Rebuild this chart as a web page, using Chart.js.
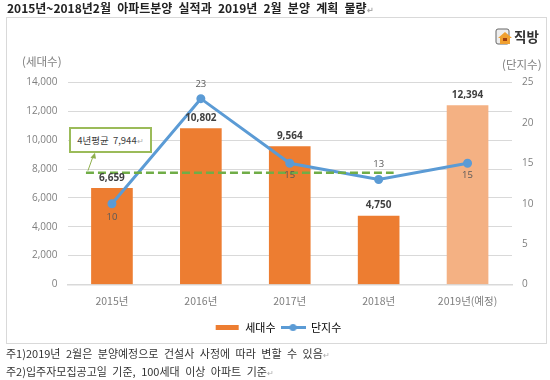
<!DOCTYPE html>
<html>
<head>
<meta charset="utf-8">
<script src="https://cdn.jsdelivr.net/npm/chart.js@4"></script>
<style>
  html, body { margin: 0; padding: 0; background: #fff; }
  body { position: relative; width: 550px; height: 380px; overflow: hidden; font-family: "Noto Sans CJK KR", "Noto Sans", sans-serif; }
  #chart { position: absolute; left: 0; top: 0; }
  .txt { position: absolute; white-space: pre; }
  .mark { color: #aaa; font-size: 8px; }
  #title { left: 7px; top: 0px; font-size: 12px; line-height: 16px; font-weight: 700; color: #222; word-spacing: 3.5px; }
  #note1 { left: 6px; top: 345px; font-size: 11px; line-height: 16px; color: #333; word-spacing: 3px; }
  #note2 { left: 6px; top: 363px; font-size: 11px; line-height: 16px; color: #333; word-spacing: 3px; }
  .unit { font-size: 11.5px; line-height: 16px; color: #7f7f7f; }
  #unitL { left: 22px; top: 53px; }
  #unitR { left: 502px; top: 56px; }
  #callout { left: 69px; top: 127px; width: 79px; height: 22px; border: 2px solid #9bbb59; background: #fff; font-size: 9.5px; line-height: 22px; color: #404040; text-align: center; word-spacing: 2px; }
  #logo { left: 514px; top: 27px; font-size: 13.5px; line-height: 18px; font-weight: 700; color: #333; }
  #logoIcon { position: absolute; left: 495px; top: 28px; }
</style>
</head>
<body>
<canvas id="chart" width="550" height="380"></canvas>
<div class="txt" id="title">2015년~2018년2월 아파트분양 실적과 2019년 2월 분양 계획 물량<span class="mark">↵</span></div>
<div class="txt unit" id="unitL">(세대수)</div>
<div class="txt unit" id="unitR">(단지수)</div>
<div class="txt" id="callout">4년평균 7,944<span class="mark">↵</span></div>
<svg id="logoIcon" width="18" height="18" viewBox="0 0 18 18">
  <rect x="1" y="1" width="13" height="15" rx="2" fill="#eee" stroke="#666" stroke-width="1"/>
  <path d="M3 10 L10 4 L17 10 L15 10 L15 16 L5 16 L5 10 Z" fill="#f0a030"/>
  <rect x="8" y="10" width="4" height="3" fill="#a04010"/>
</svg>
<div class="txt" id="logo">직방</div>
<div class="txt" id="note1">주1)2019년 2월은 분양예정으로 건설사 사정에 따라 변할 수 있음<span class="mark">↵</span></div>
<div class="txt" id="note2">주2)입주자모집공고일 기준, 100세대 이상 아파트 기준<span class="mark">↵</span></div>

<script>
// data
const categories = ['2015년', '2016년', '2017년', '2018년', '2019년(예정)'];
const householdValues = [6659, 10802, 9564, 4750, 12394];
const complexValues = [10, 23, 15, 13, 15];
const leftTicks = [0, 2000, 4000, 6000, 8000, 10000, 12000, 14000];
const rightTicks = [0, 5, 10, 15, 20, 25];
const averageLineLevel = 7750; // the dashed line sits a bit under 8,000 in the picture

const barColors = ['#ed7d31', '#ed7d31', '#ed7d31', '#ed7d31', '#f4b183'];
const lineBlue = '#5b9bd5';
const gridColor = '#d9d9d9';

// legend swatches: flat bar and line with a dot
function makeSwatch(isLine) {
    const s = document.createElement('canvas');
    s.width = 25;
    s.height = 9;
    const g = s.getContext('2d');
    if (isLine) {
        g.fillStyle = lineBlue;
        g.fillRect(0, 3, 25, 3);
        g.beginPath();
        g.arc(12.5, 4.5, 3.5, 0, Math.PI * 2);
        g.fill();
    } else {
        g.fillStyle = '#ed7d31';
        g.fillRect(1, 2, 23, 5);
    }
    return s;
}

// frame, average line, callout arrow and value labels
const overlayPlugin = {
    id: 'overlay',
    beforeDraw(chart) {
        const c = chart.ctx;
        c.save();
        c.strokeStyle = '#d9d9d9';
        c.lineWidth = 1;
        c.strokeRect(6.5, 17.5, 540, 326);
        c.restore();
    },
    afterDatasetsDraw(chart) {
        const c = chart.ctx;
        const x = chart.scales.x;
        const y = chart.scales.y;
        const y1 = chart.scales.y1;

        // dashed average line
        const avgY = y.getPixelForValue(averageLineLevel);
        c.save();
        c.strokeStyle = '#70ad47';
        c.lineWidth = 2.5;
        c.setLineDash([8, 4]);
        c.beginPath();
        c.moveTo(x.getPixelForValue(0) - 26, avgY);
        c.lineTo(x.getPixelForValue(3) + 15, avgY);
        c.stroke();
        c.restore();

        // arrow from the line up to the callout
        const ax = x.getPixelForValue(0) - 24;
        c.save();
        c.strokeStyle = '#8fb04d';
        c.fillStyle = '#8fb04d';
        c.lineWidth = 1;
        c.beginPath();
        c.moveTo(ax, avgY - 2);
        c.lineTo(ax + 5, avgY - 16);
        c.stroke();
        c.beginPath();
        c.moveTo(ax + 7, avgY - 20);
        c.lineTo(ax + 2.5, avgY - 15);
        c.lineTo(ax + 8, avgY - 14);
        c.closePath();
        c.fill();
        c.restore();

        // value labels
        c.save();
        c.textAlign = 'center';
        c.textBaseline = 'middle';
        c.font = 'bold 10px "Open Sans", "Noto Sans", sans-serif';
        c.fillStyle = '#404040';
        householdValues.forEach((v, i) => {
            c.fillText(v.toLocaleString('en-US'), x.getPixelForValue(i), y.getPixelForValue(v) - 10.5);
        });
        const offs = [14, -14, 12, -15, 12];
        c.font = '9.5px "Open Sans", "Noto Sans", sans-serif';
        c.fillStyle = '#595959';
        complexValues.forEach((v, i) => {
            c.fillText(String(v), x.getPixelForValue(i), y1.getPixelForValue(v) + offs[i]);
        });
        c.restore();
    }
};

const tickFont = { family: '"Open Sans", "Noto Sans", sans-serif', size: 10 };

new Chart(document.getElementById('chart'), {
    data: {
        labels: categories,
        datasets: [
            {
                type: 'line',
                label: '단지수',
                data: complexValues,
                yAxisID: 'y1',
                borderColor: lineBlue,
                backgroundColor: lineBlue,
                borderWidth: 3,
                pointRadius: 3,
                pointBackgroundColor: lineBlue,
                pointBorderColor: lineBlue,
                tension: 0,
                order: 1
            },
            {
                type: 'bar',
                label: '세대수',
                data: householdValues,
                yAxisID: 'y',
                backgroundColor: barColors,
                barThickness: 41,
                order: 2
            }
        ]
    },
    options: {
        responsive: false,
        animation: false,
        layout: { padding: { left: 6, right: 0, top: 82.5, bottom: 37 } },
        plugins: {
            title: { display: false },
            tooltip: { enabled: false },
            legend: {
                position: 'bottom',
                labels: {
                    color: '#7f7f7f',
                    usePointStyle: true,
                    pointStyleWidth: 25,
                    padding: 5,
                    font: { family: '"Noto Sans CJK KR"', size: 11 },
                    generateLabels() {
                        return [
                            { text: '세대수', pointStyle: makeSwatch(false), datasetIndex: 1, lineWidth: 0 },
                            { text: '단지수', pointStyle: makeSwatch(true), datasetIndex: 0, lineWidth: 0 }
                        ];
                    }
                }
            }
        },
        scales: {
            x: {
                afterFit(axis) { axis.height = 32.5; },
                grid: { display: false },
                border: { color: gridColor, width: 1.5 },
                ticks: { color: '#7f7f7f', font: { family: '"Noto Sans CJK KR"', size: 10.5 }, padding: 2, maxRotation: 0 }
            },
            y: {
                position: 'left',
                min: 0,
                max: 14000,
                afterBuildTicks(axis) { axis.ticks = leftTicks.map(v => ({ value: v })); },
                afterFit(axis) { axis.width = 61.5; },
                grid: { color: gridColor, drawTicks: false },
                border: { display: false },
                ticks: { color: '#7f7f7f', font: tickFont, padding: 10, callback: v => v.toLocaleString('en-US') }
            },
            y1: {
                position: 'right',
                min: 0,
                max: 25,
                afterBuildTicks(axis) { axis.ticks = rightTicks.map(v => ({ value: v })); },
                afterFit(axis) { axis.width = 38; },
                grid: { display: false, drawTicks: false },
                border: { display: false },
                ticks: { color: '#7f7f7f', font: tickFont, padding: 10 }
            }
        }
    },
    plugins: [overlayPlugin]
});
</script>
</body>
</html>
